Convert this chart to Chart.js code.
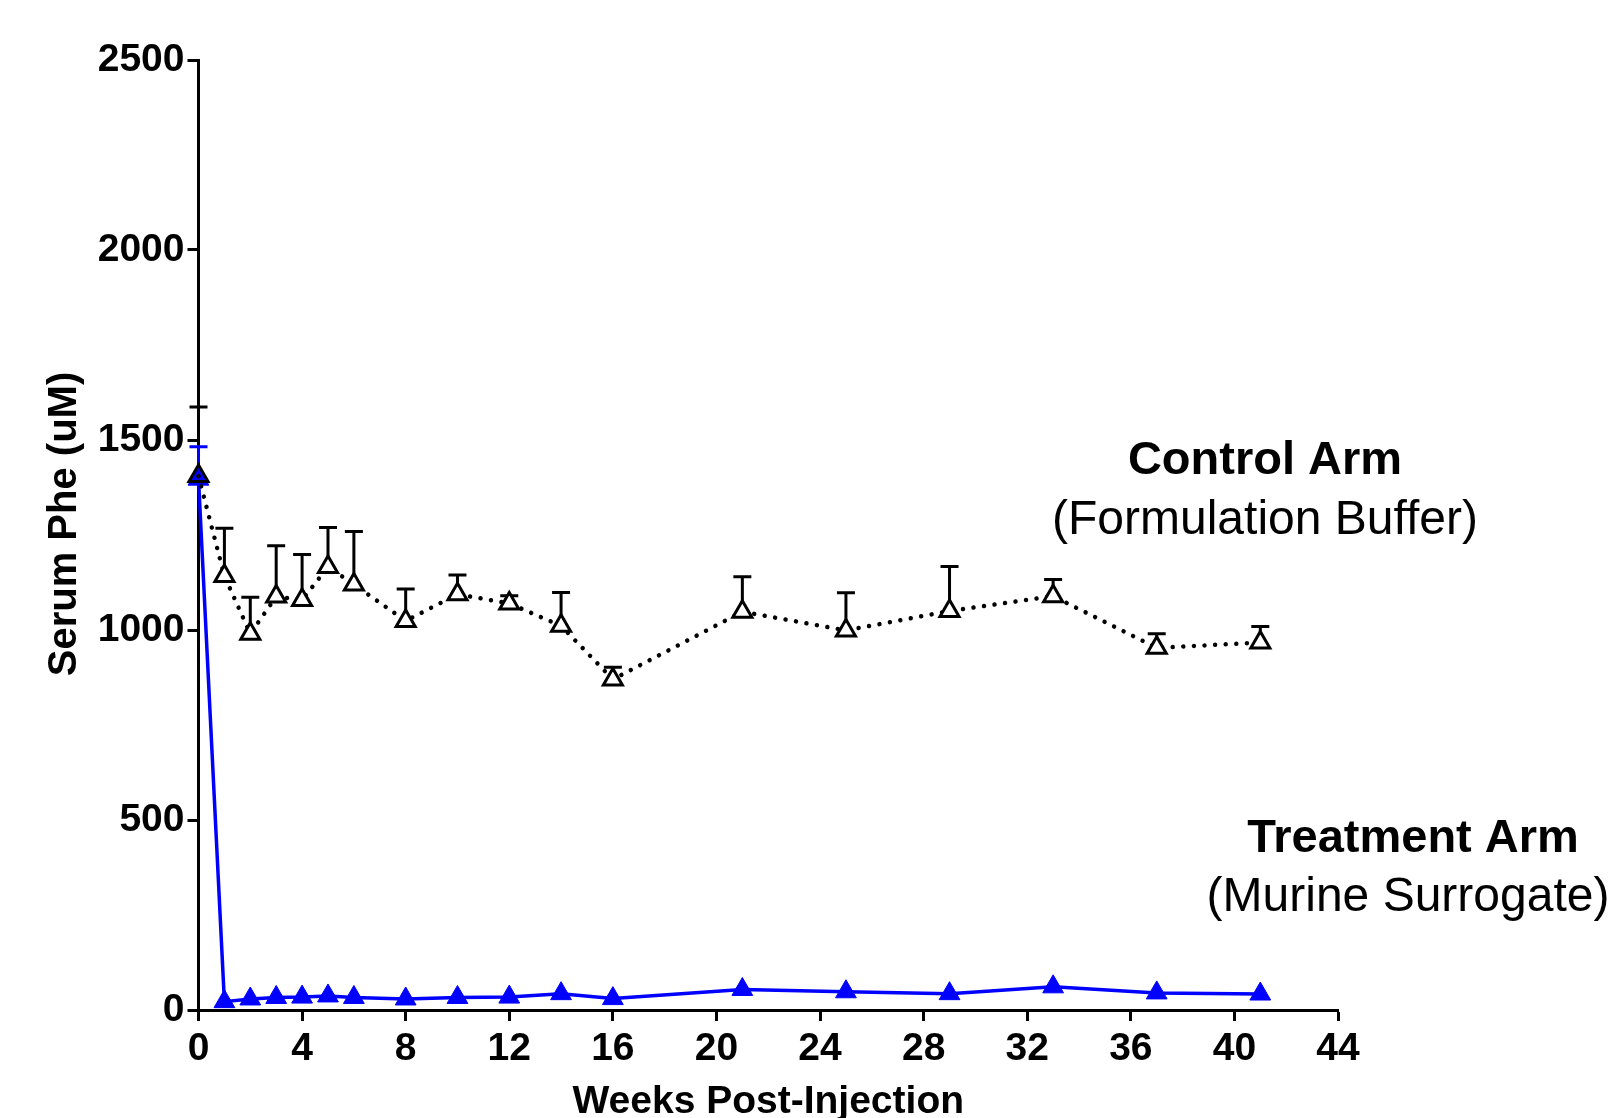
<!DOCTYPE html>
<html>
<head>
<meta charset="utf-8">
<script src="https://cdn.jsdelivr.net/npm/chart.js@4.4.1/dist/chart.umd.min.js"></script>
<style>
    body { margin: 0; background: #fff; }
    #wrap { width: 1608px; height: 1118px; position: relative; }
</style>
</head>
<body>
<div id="wrap"><canvas id="myChart"></canvas></div>
<script>
// weeks post-injection
const weeks = [0, 1, 2, 3, 4, 5, 6, 8, 10, 12, 14, 16, 21, 25, 29, 33, 37, 41];
// control arm (formulation buffer), mean and upper SEM
const controlMean = [1405, 1142, 990, 1088, 1079, 1166, 1120, 1024, 1094, 1070, 1011, 870, 1048, 999, 1050, 1089, 953, 967];
const controlErr = [182, 126, 96, 134, 120, 104, 139, 84, 51, 20, 88, 32, 92, 99, 117, 44, 37, 42];
// treatment arm (murine surrogate), mean and upper SEM
const treatMean = [1397, 22, 29, 33, 34, 37, 33, 29, 33, 34, 43, 30, 54, 48, 43, 61, 45, 42];
const treatErr = [85, 0, 0, 0, 0, 0, 0, 0, 0, 0, 0, 0, 0, 0, 0, 0, 0, 0];

const xTicks = [0, 4, 8, 12, 16, 20, 24, 28, 32, 36, 40, 44];
const yTicks = [0, 500, 1000, 1500, 2000, 2500];

const FONT = '"Liberation Sans", Arial, sans-serif';
const BLUE = '#0000ff';

function points(means) {
    return weeks.map((w, i) => ({x: w, y: means[i]}));
}

// upper error bars, drawn under the markers
const errorBars = {
    id: 'errorBars',
    beforeDatasetsDraw(chart) {
        const ctx = chart.ctx;
        const xs = chart.scales.x;
        const ys = chart.scales.y;
        const sets = [
            {mean: controlMean, err: controlErr, color: '#000'},
            {mean: treatMean, err: treatErr, color: BLUE}
        ];
        ctx.save();
        ctx.lineWidth = 3;
        sets.forEach(s => {
            ctx.strokeStyle = s.color;
            weeks.forEach((w, i) => {
                if (!s.err[i]) return;
                const px = xs.getPixelForValue(w);
                const py = ys.getPixelForValue(s.mean[i]);
                const top = ys.getPixelForValue(s.mean[i] + s.err[i]);
                ctx.beginPath();
                ctx.moveTo(px, py);
                ctx.lineTo(px, top);
                ctx.moveTo(px - 9, top);
                ctx.lineTo(px + 9, top);
                ctx.stroke();
            });
        });
        ctx.restore();
    }
};

const armLabels = {
    id: 'armLabels',
    afterDraw(chart) {
        const ctx = chart.ctx;
        ctx.save();
        ctx.fillStyle = '#000';
        ctx.textAlign = 'center';
        ctx.textBaseline = 'middle';
        ctx.font = 'bold 47px ' + FONT;
        ctx.fillText('Control Arm', 1265, 461);
        ctx.fillText('Treatment Arm', 1413, 839);
        ctx.font = '48px ' + FONT;
        ctx.fillText('(Formulation Buffer)', 1265, 521);
        ctx.fillText('(Murine Surrogate)', 1408, 898);
        // y axis title, drawn here so it can sit a bit above the axis middle
        ctx.translate(65, 524);
        ctx.rotate(-Math.PI / 2);
        ctx.font = 'bold 40px ' + FONT;
        ctx.fillText('Serum Phe (uM)', 0, 0);
        ctx.restore();
    }
};

Chart.defaults.color = '#000';
Chart.defaults.font.family = FONT;

// the control marker at week 0 is see-through so the blue one shows inside it
const controlFill = weeks.map((w, i) => i === 0 ? 'rgba(255,255,255,0)' : '#fff');

const myChart = document.getElementById('myChart');
new Chart(myChart, {
    type: 'line',
    data: {
        datasets: [{
            label: 'Control Arm',
            data: points(controlMean),
            borderColor: '#000',
            borderWidth: 4.5,
            borderDash: [0.01, 10.6],
            borderCapStyle: 'round',
            pointStyle: 'triangle',
            pointRadius: 11,
            pointBorderWidth: 3,
            pointBorderColor: '#000',
            pointBackgroundColor: controlFill,
            tension: 0,
            clip: false
        }, {
            label: 'Treatment Arm',
            data: points(treatMean),
            borderColor: BLUE,
            borderWidth: 3.5,
            pointStyle: 'triangle',
            pointRadius: 12,
            pointBorderWidth: 1,
            pointBorderColor: BLUE,
            pointBackgroundColor: BLUE,
            tension: 0,
            clip: false
        }]
    },
    options: {
        responsive: true,
        maintainAspectRatio: false,
        animation: false,
        layout: {padding: {left: 0, top: 60, right: 270, bottom: 0}},
        plugins: {legend: {display: false}, tooltip: {enabled: false}},
        scales: {
            x: {
                type: 'linear',
                min: 0,
                max: 44,
                afterBuildTicks: s => { s.ticks = xTicks.map(v => ({value: v})); },
                afterFit: s => { s.height = 108; },
                border: {display: true, color: '#000', width: 3},
                grid: {drawOnChartArea: false, drawTicks: true, tickLength: 11, tickWidth: 3, tickColor: '#000'},
                ticks: {font: {size: 39, weight: 'bold'}, padding: 5, maxRotation: 0, callback: v => String(v)},
                title: {display: true, text: 'Weeks Post-Injection', font: {size: 39, weight: 'bold', lineHeight: 1}, padding: {top: 0, bottom: -4}}
            },
            y: {
                type: 'linear',
                min: 0,
                max: 2500,
                afterBuildTicks: s => { s.ticks = yTicks.map(v => ({value: v})); },
                afterFit: s => { s.width = 198.5; },
                border: {display: true, color: '#000', width: 3},
                grid: {drawOnChartArea: false, drawTicks: true, tickLength: 11, tickWidth: 3, tickColor: '#000'},
                ticks: {font: {size: 39, weight: 'bold'}, padding: 3, callback: v => String(v)},
                title: {display: false}
            }
        }
    },
    plugins: [errorBars, armLabels]
});
</script>
</body>
</html>
